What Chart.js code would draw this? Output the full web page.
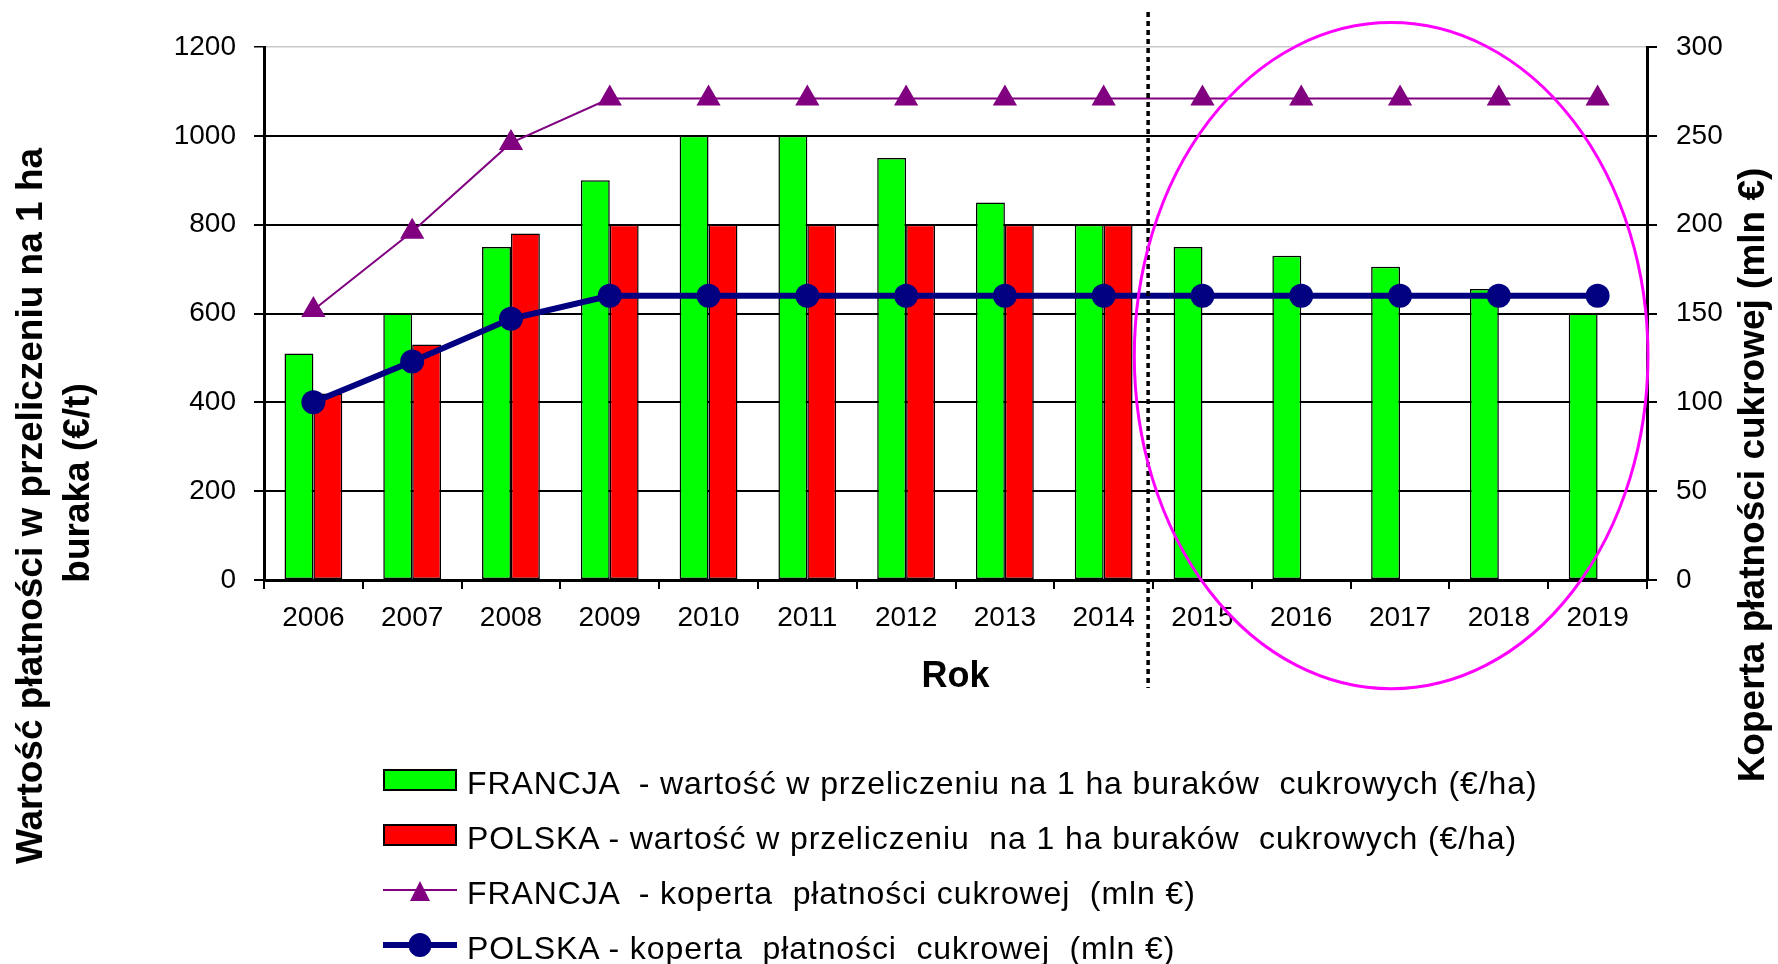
<!DOCTYPE html>
<html lang="pl">
<head>
<meta charset="utf-8">
<title>Koperta płatności cukrowej</title>
<script src="https://cdn.jsdelivr.net/npm/chart.js@4.4.1/dist/chart.umd.min.js"></script>
<style>
  html, body { margin: 0; padding: 0; background: #fff; }
  #wrap { position: relative; width: 1778px; height: 964px; overflow: hidden; }
  #chart { position: absolute; left: 0; top: 0; }
  #legend {
    position: absolute; left: 383px; top: 756px;
    font-family: "Liberation Sans", Arial, sans-serif; font-size: 32px; color: #000;
  }
  .lg-row { display: flex; align-items: center; height: 55px; white-space: pre; letter-spacing: .9px; }
  .lg-row svg { flex: none; margin-right: 10px; position: relative; top: -4px; }
</style>
</head>
<body>
<div id="wrap">
  <canvas id="chart" width="1778" height="964"></canvas>
  <div id="legend"></div>
</div>
<script>
/* ── data ── */
var YEARS = ['2006','2007','2008','2009','2010','2011','2012','2013','2014','2015','2016','2017','2018','2019'];
var FR_HA = [510, 600, 750, 900, 1000, 1000, 950, 850, 800, 750, 730, 705, 655, 600];
var PL_HA = [420, 530, 780, 800, 800, 800, 800, 800, 800, null, null, null, null, null];
var FR_KOPERTA = [152, 196, 246, 271, 271, 271, 271, 271, 271, 271, 271, 271, 271, 271];
var PL_KOPERTA = [100, 123, 147, 160, 160, 160, 160, 160, 160, 160, 160, 160, 160, 160];

var Y_MAX = 1200, Y_STEP = 200;
var Y1_MAX = 300, Y1_STEP = 50;

var SERIES_LABELS = [
  'FRANCJA  - wartość w przeliczeniu na 1 ha buraków  cukrowych (€/ha)',
  'POLSKA - wartość w przeliczeniu  na 1 ha buraków  cukrowych (€/ha)',
  'FRANCJA  - koperta  płatności cukrowej  (mln €)',
  'POLSKA - koperta  płatności  cukrowej  (mln €)'
];
var X_TITLE = 'Rok';
var Y_TITLE = ['Wartość płatności w przeliczeniu na 1 ha', 'buraka (€/t)'];
var Y1_TITLE = 'Koperta płatności cukrowej (mln €)';

var FONT = '"Liberation Sans", Arial, sans-serif';
var GREEN = '#00FF00', RED = '#FF0000', PURPLE = '#800080', NAVY = '#000080', MAGENTA = '#FF00FF';

Chart.defaults.font.family = FONT;
Chart.defaults.color = '#000';

// dotted split line + magenta ellipse, anchored on the scales
var guides = {
  id: 'guides',
  afterDatasetsDraw: function(chart) {
    var ctx = chart.ctx, x = chart.scales.x, y = chart.scales.y, area = chart.chartArea;
    ctx.save();
    var px = x.getPixelForValue(8.45);
    ctx.strokeStyle = '#000';
    ctx.lineWidth = 3.5;
    ctx.setLineDash([5, 4]);
    ctx.beginPath();
    ctx.moveTo(px, area.top - 35);
    ctx.lineTo(px, area.bottom + 108);
    ctx.stroke();

    var step = x.getPixelForValue(1) - x.getPixelForValue(0);
    var cx = x.getPixelForValue(10.91), cy = y.getPixelForValue(505);
    var rx = step * 2.6, ry = y.getPixelForValue(0) - y.getPixelForValue(750);
    ctx.setLineDash([]);
    ctx.strokeStyle = MAGENTA;
    ctx.lineWidth = 3;
    ctx.beginPath();
    ctx.ellipse(cx, cy, rx, ry, 0, 0, Math.PI * 2);
    ctx.stroke();
    ctx.restore();
  }
};

// vertical side titles (both read bottom to top)
var sideTitles = {
  id: 'sideTitles',
  afterDraw: function(chart) {
    var ctx = chart.ctx;
    function vText(text, x, y) {
      ctx.save();
      ctx.translate(x, y);
      ctx.rotate(-Math.PI / 2);
      ctx.fillText(text, 0, 0);
      ctx.restore();
    }
    ctx.save();
    ctx.font = 'bold 37px ' + FONT;
    ctx.fillStyle = '#000';
    ctx.textAlign = 'center';
    ctx.textBaseline = 'alphabetic';
    vText(Y_TITLE[0], 42, 506);
    vText(Y_TITLE[1], 89, 483);
    vText(Y1_TITLE, 1764, 475);
    ctx.restore();
  }
};

var tickFont = { family: FONT, size: 28 };
function plainNum(v) { return String(v); }

var chart = new Chart(document.getElementById('chart').getContext('2d'), {
  data: {
    labels: YEARS,
    datasets: [
      { type: 'bar', label: SERIES_LABELS[0], data: FR_HA, backgroundColor: GREEN,
        borderColor: '#000', borderWidth: 1.5, borderSkipped: false, order: 2 },
      { type: 'bar', label: SERIES_LABELS[1], data: PL_HA, backgroundColor: RED,
        borderColor: '#000', borderWidth: 1.5, borderSkipped: false, order: 2 },
      { type: 'line', label: SERIES_LABELS[2], data: FR_KOPERTA, yAxisID: 'y1',
        borderColor: PURPLE, backgroundColor: PURPLE, borderWidth: 2, tension: 0,
        pointStyle: 'triangle', pointRadius: 14, pointBorderWidth: 0, pointBorderColor: PURPLE,
        pointBackgroundColor: PURPLE, order: 1 },
      { type: 'line', label: SERIES_LABELS[3], data: PL_KOPERTA, yAxisID: 'y1',
        borderColor: NAVY, backgroundColor: NAVY, borderWidth: 6, tension: 0,
        pointStyle: 'circle', pointRadius: 12, pointBorderWidth: 0, pointBorderColor: NAVY,
        pointBackgroundColor: NAVY, order: 0 }
    ]
  },
  options: {
    responsive: false,
    animation: false,
    layout: { padding: { left: 164, right: 31, top: 47, bottom: 264 } },
    datasets: { bar: { categoryPercentage: 0.585, barPercentage: 1 } },
    plugins: { legend: { display: false }, tooltip: { enabled: false } },
    scales: {
      x: {
        grid: { drawOnChartArea: false, drawTicks: true, tickLength: 9, color: '#000', lineWidth: 2, offset: true },
        border: { color: '#000', width: 3 },
        ticks: { color: '#000', font: tickFont, padding: 12, maxRotation: 0, autoSkip: false },
        title: { display: true, text: X_TITLE, color: '#000',
          font: { family: FONT, size: 36, weight: 'bold' }, padding: { top: 0, bottom: 1 } },
        afterFit: function(s) { s.height = 120; }
      },
      y: {
        position: 'left', min: 0, max: Y_MAX,
        ticks: { stepSize: Y_STEP, color: '#000', font: tickFont, padding: 18, callback: plainNum },
        grid: {
          color: function(c) { return c.tick && c.tick.value === Y_MAX ? '#c8c8c8' : '#000'; },
          lineWidth: function(c) { return c.tick && c.tick.value === Y_MAX ? 1.5 : 2; },
          tickColor: '#000', tickLength: 10
        },
        border: { color: '#000', width: 3 },
        afterFit: function(s) { s.width = 100; }
      },
      y1: {
        position: 'right', min: 0, max: Y1_MAX,
        ticks: { stepSize: Y1_STEP, color: '#000', font: tickFont, padding: 19, callback: plainNum },
        grid: { drawOnChartArea: false, color: '#000', lineWidth: 2, tickLength: 10 },
        border: { color: '#000', width: 3 },
        afterFit: function(s) { s.width = 100; }
      }
    }
  },
  plugins: [guides, sideTitles]
});

// ── HTML legend, built from the chart's datasets ──
function legendIcon(ds) {
  var c = ds.backgroundColor;
  if (ds.type === 'line') {
    var mark = ds.pointStyle === 'triangle'
      ? '<polygon points="27,23 47,23 37,3" fill="' + c + '"/>'
      : '<ellipse cx="37" cy="12" rx="11.5" ry="12" fill="' + c + '"/>';
    return '<svg width="74" height="24"><line x1="0" y1="12" x2="74" y2="12" stroke="' + c +
      '" stroke-width="' + ds.borderWidth + '"/>' + mark + '</svg>';
  }
  return '<svg width="74" height="24"><rect x="1" y="2" width="72" height="20" fill="' + c +
    '" stroke="#000" stroke-width="2"/></svg>';
}

document.getElementById('legend').innerHTML = chart.data.datasets.map(function(ds) {
  return '<div class="lg-row">' + legendIcon(ds) + '<span>' + ds.label + '</span></div>';
}).join('');
</script>
</body>
</html>
